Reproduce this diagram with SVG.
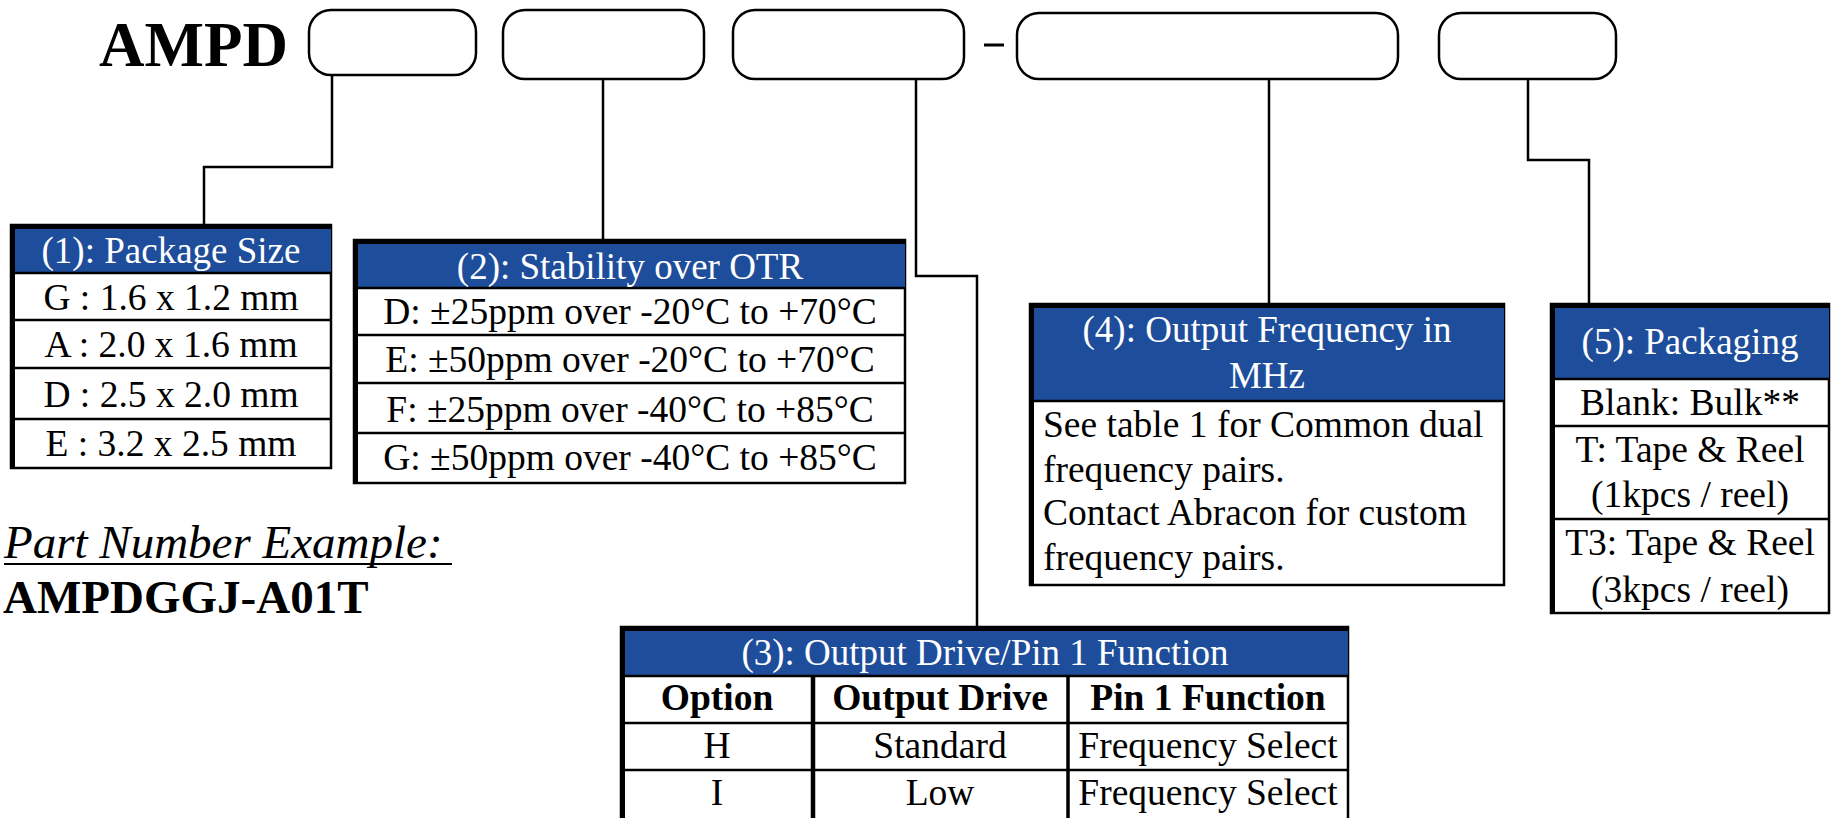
<svg xmlns="http://www.w3.org/2000/svg" width="1834" height="818" viewBox="0 0 1834 818">
<style>
.pill{fill:#fff;stroke:#000;stroke-width:2.5}
.tb{fill:#fff;stroke:#000;stroke-width:2.5}
.hdr{fill:#1E4D9B}
.ln{stroke:#000;stroke-width:2.5;fill:none}
.thick{stroke:#000;stroke-width:5;fill:none}
.conn{stroke:#000;stroke-width:2.5;fill:none}
.t{font-family:"Liberation Serif","Times New Roman",serif;font-size:37.5px;fill:#000}
.h{fill:#fff;text-anchor:middle;font-size:37px}
.c{text-anchor:middle}
.b{font-weight:bold}
</style>
<rect width="1834" height="818" fill="#fff"/>

<g id="title">
<text class="t b" x="99" y="66" style="font-size:63px">AMPD</text>
</g>

<g id="connectors">
<path class="conn" d="M332 75 V167 H204 V224"/>
<path class="conn" d="M603 79 V239"/>
<path class="conn" d="M916 79 V276 H977 V626"/>
<path class="conn" d="M1269 79 V303"/>
<path class="conn" d="M1528 79 V160 H1589 V303"/>
</g>

<g id="pill1"><rect class="pill" x="309" y="10" width="167" height="65" rx="22"/></g>
<g id="pill2"><rect class="pill" x="503" y="10" width="201" height="69" rx="22"/></g>
<g id="pill3"><rect class="pill" x="733" y="10" width="231" height="69" rx="22"/></g>
<g id="dash"><line x1="984" y1="45" x2="1004" y2="45" stroke="#000" stroke-width="3"/></g>
<g id="pill4"><rect class="pill" x="1017" y="13" width="381" height="66" rx="22"/></g>
<g id="pill5"><rect class="pill" x="1439" y="13" width="177" height="66" rx="22"/></g>

<g id="table1">
<rect class="tb" x="11" y="225" width="320" height="243"/>
<rect class="hdr" x="11" y="225" width="320" height="48"/>
<path class="ln" d="M11 273 H331 M11 320 H331 M11 368 H331 M11 419 H331"/>
<path class="thick" d="M12.5 468 V226.5 H331"/>
<text class="t h" x="171" y="263">(1): Package Size</text>
<text class="t c" x="171" y="310">G : 1.6 x 1.2 mm</text>
<text class="t c" x="171" y="357">A : 2.0 x 1.6 mm</text>
<text class="t c" x="171" y="407">D : 2.5 x 2.0 mm</text>
<text class="t c" x="171" y="456">E : 3.2 x 2.5 mm</text>
</g>

<g id="table2">
<rect class="tb" x="354" y="240" width="551" height="243"/>
<rect class="hdr" x="354" y="240" width="551" height="48"/>
<path class="ln" d="M354 288 H905 M354 335 H905 M354 383 H905 M354 433 H905"/>
<path class="thick" d="M355.5 483 V241.5 H905"/>
<text class="t h" x="630" y="279">(2): Stability over OTR</text>
<text class="t c" x="630" y="324">D: ±25ppm over -20°C to +70°C</text>
<text class="t c" x="630" y="372">E: ±50ppm over -20°C to +70°C</text>
<text class="t c" x="630" y="422">F: ±25ppm over -40°C to +85°C</text>
<text class="t c" x="630" y="470">G: ±50ppm over -40°C to +85°C</text>
</g>

<g id="table4">
<rect class="tb" x="1030" y="304" width="474" height="281"/>
<rect class="hdr" x="1030" y="304" width="474" height="97"/>
<path class="ln" d="M1030 401 H1504"/>
<path class="thick" d="M1031.5 585 V305.5 H1504"/>
<text class="t h" x="1267" y="342">(4): Output Frequency in</text>
<text class="t h" x="1267" y="388">MHz</text>
<text class="t" x="1043" y="437">See table 1 for Common dual</text>
<text class="t" x="1043" y="482">frequency pairs.</text>
<text class="t" x="1043" y="525">Contact Abracon for custom</text>
<text class="t" x="1043" y="570">frequency pairs.</text>
</g>

<g id="table5">
<rect class="tb" x="1551" y="304" width="278" height="309"/>
<rect class="hdr" x="1551" y="304" width="278" height="75"/>
<path class="ln" d="M1551 379 H1829 M1551 426 H1829 M1551 519 H1829"/>
<path class="thick" d="M1552.5 613 V305.5 H1829"/>
<text class="t h" x="1690" y="354">(5): Packaging</text>
<text class="t c" x="1690" y="415">Blank: Bulk**</text>
<text class="t c" x="1690" y="462">T: Tape &amp; Reel</text>
<text class="t c" x="1690" y="507">(1kpcs / reel)</text>
<text class="t c" x="1690" y="555">T3: Tape &amp; Reel</text>
<text class="t c" x="1690" y="602">(3kpcs / reel)</text>
</g>

<g id="table3">
<rect class="tb" x="621" y="627" width="727" height="220"/>
<rect class="hdr" x="621" y="627" width="727" height="49"/>
<path class="ln" d="M621 676 H1348 M621 723 H1348 M621 770 H1348"/>
<path class="thick" d="M622.5 830 V628.5 H1348"/>
<line x1="813" y1="676" x2="813" y2="830" stroke="#000" stroke-width="4.5"/>
<line x1="1068" y1="676" x2="1068" y2="830" stroke="#000" stroke-width="3.5"/>
<text class="t h" x="985" y="665">(3): Output Drive/Pin 1 Function</text>
<text class="t c b" x="717" y="710">Option</text>
<text class="t c b" x="940" y="710">Output Drive</text>
<text class="t c b" x="1208" y="710">Pin 1 Function</text>
<text class="t c" x="717" y="758">H</text>
<text class="t c" x="940" y="758">Standard</text>
<text class="t c" x="1208" y="758">Frequency Select</text>
<text class="t c" x="717" y="805">I</text>
<text class="t c" x="940" y="805">Low</text>
<text class="t c" x="1208" y="805">Frequency Select</text>
</g>

<g id="example">
<text class="t" x="4" y="558" style="font-size:47px;font-style:italic">Part Number Example:</text>
<line x1="4" y1="564" x2="452" y2="564" stroke="#000" stroke-width="2"/>
<text class="t b" x="3" y="613" style="font-size:47px">AMPDGGJ-A01T</text>
</g>
</svg>
